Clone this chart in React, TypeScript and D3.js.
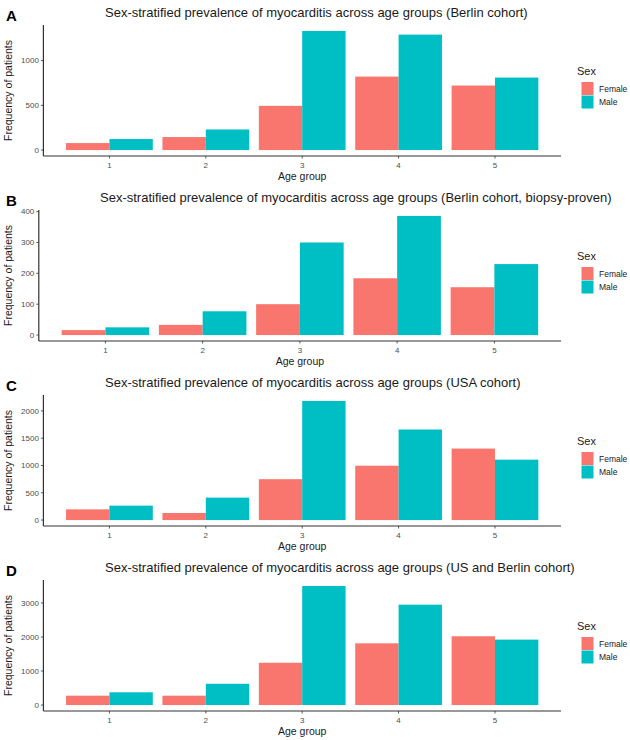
import React from "react";
import * as d3 from "d3";

const ageGroups = ["1", "2", "3", "4", "5"];
const sexes = ["Female", "Male"];
const sexColors = ["#F8766D", "#00BFC4"];

const panelLetters = ["A", "B", "C", "D"];
const panelTitles = [
  "Sex-stratified prevalence of myocarditis across age groups (Berlin cohort)",
  "Sex-stratified prevalence of myocarditis across age groups (Berlin cohort, biopsy-proven)",
  "Sex-stratified prevalence of myocarditis across age groups (USA cohort)",
  "Sex-stratified prevalence of myocarditis across age groups (US and Berlin cohort)",
];

const berlinFemale = [78, 145, 494, 821, 721];
const berlinMale = [123, 230, 1331, 1290, 810];
const biopsyFemale = [16, 33, 100, 184, 155];
const biopsyMale = [25, 77, 300, 386, 230];
const usaFemale = [196, 129, 749, 996, 1310];
const usaMale = [264, 411, 2183, 1660, 1107];
const combinedFemale = [275, 275, 1243, 1814, 2021];
const combinedMale = [375, 625, 3500, 2950, 1923];

const berlinTicks = [0, 500, 1000];
const biopsyTicks = [0, 100, 200, 300, 400];
const usaTicks = [0, 500, 1000, 1500, 2000];
const combinedTicks = [0, 1000, 2000, 3000];

const panelSeries = [
  [berlinFemale, berlinMale],
  [biopsyFemale, biopsyMale],
  [usaFemale, usaMale],
  [combinedFemale, combinedMale],
];
const panelTicks = [berlinTicks, biopsyTicks, usaTicks, combinedTicks];

const FONT = "'Liberation Sans', Arial, Helvetica, sans-serif";
const W = 630;
const H = 740;

function Panel({ index }: { index: number }) {
  const series = panelSeries[index];
  const ticks = panelTicks[index];
  const top = 25 + 185 * index;
  const height = 131;
  const bottom = top + height;
  const maxChars = d3.max(ticks, (t) => String(t).length) as number;
  const left = 25 + 4.6 * maxChars;
  const right = 561;
  const maxVal = d3.max(series.flat()) as number;

  const y = d3
    .scaleLinear()
    .domain([-0.05 * maxVal, 1.05 * maxVal])
    .range([bottom, top]);
  const x = d3.scalePoint().domain(ageGroups).range([left, right]).padding(0.685);
  const step = x.step();
  const xSex = d3
    .scaleBand()
    .domain(sexes)
    .range([-0.45 * step, 0.45 * step])
    .padding(0);

  const legendCenter = (top + bottom) / 2;
  const keyH = 13.5;

  return (
    <g>
      <text x={6} y={top - 4} fontFamily={FONT} fontWeight="bold" fontSize={15} fill="#000">
        {panelLetters[index]}
      </text>
      <text x={index === 1 ? 100 : 105} y={top - 8} fontFamily={FONT} fontSize={13} fill="#1a1a1a">
        {panelTitles[index]}
      </text>
      {series.map((vals, si) =>
        vals.map((v, gi) => {
          const x0 = (x(ageGroups[gi]) as number) + (xSex(sexes[si]) as number);
          return (
            <rect
              key={`${si}-${gi}`}
              x={x0}
              y={y(v)}
              width={xSex.bandwidth()}
              height={y(0) - y(v)}
              fill={sexColors[si]}
            />
          );
        })
      )}
      <line x1={left} x2={left} y1={top} y2={bottom} stroke="#333" strokeWidth={1.2} />
      <line x1={left} x2={right} y1={bottom} y2={bottom} stroke="#333" strokeWidth={1.2} />
      {ticks.map((t) => (
        <g key={t}>
          <line x1={left - 2.5} x2={left} y1={y(t)} y2={y(t)} stroke="#333" strokeWidth={0.8} />
          <text
            x={left - 4.5}
            y={y(t)}
            dy="0.35em"
            textAnchor="end"
            fontFamily={FONT}
            fontSize={8}
            fill="#4d4d4d"
          >
            {t}
          </text>
        </g>
      ))}
      {ageGroups.map((g) => (
        <g key={g}>
          <line
            x1={x(g) as number}
            x2={x(g) as number}
            y1={bottom}
            y2={bottom + 2.5}
            stroke="#333"
            strokeWidth={0.8}
          />
          <text
            x={x(g) as number}
            y={bottom + 11.5}
            textAnchor="middle"
            fontFamily={FONT}
            fontSize={8}
            fill="#4d4d4d"
          >
            {g}
          </text>
        </g>
      ))}
      <text
        x={(left + right) / 2}
        y={bottom + 23.5}
        textAnchor="middle"
        fontFamily={FONT}
        fontSize={10.5}
        fill="#1a1a1a"
      >
        Age group
      </text>
      <text
        transform={`translate(${12},${(top + bottom) / 2}) rotate(-90)`}
        textAnchor="middle"
        fontFamily={FONT}
        fontSize={10.5}
        fill="#1a1a1a"
      >
        Frequency of patients
      </text>
      <text x={577} y={legendCenter - 16} fontFamily={FONT} fontSize={11} fill="#1a1a1a">
        Sex
      </text>
      {sexes.map((s, i) => (
        <g key={s}>
          <rect
            x={581.5}
            y={legendCenter - 8.5 + i * keyH}
            width={12}
            height={keyH - 0.5}
            fill={sexColors[i]}
          />
          <text
            x={599}
            y={legendCenter - 8.5 + i * keyH + keyH / 2}
            dy="0.35em"
            fontFamily={FONT}
            fontSize={8.5}
            fill="#1a1a1a"
          >
            {s}
          </text>
        </g>
      ))}
    </g>
  );
}

export default function App() {
  return (
    <svg
      width={W}
      height={H}
      viewBox={`0 0 ${W} ${H}`}
      style={{ position: "absolute", left: 0, top: 0, background: "#fff", display: "block" }}
    >
      <rect x={0} y={0} width={W} height={H} fill="#fff" />
      {panelLetters.map((_, i) => (
        <Panel key={i} index={i} />
      ))}
    </svg>
  );
}
